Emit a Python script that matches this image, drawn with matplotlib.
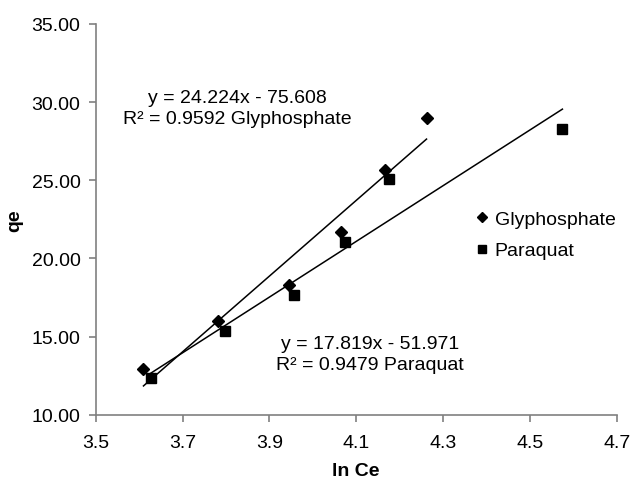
import matplotlib
matplotlib.use("Agg")
import matplotlib.pyplot as plt
import numpy as np

plt.rcParams['font.family'] = ['Liberation Sans', 'DejaVu Sans']

# values
gly_x = [3.610, 3.782, 3.945, 4.065, 4.166, 4.262]
gly_y = [12.92, 16.01, 18.31, 21.70, 25.66, 28.97]
para_x = [3.627, 3.798, 3.957, 4.074, 4.175, 4.575]
para_y = [12.33, 15.37, 17.67, 21.06, 25.07, 28.31]

# trendline equations shown on the chart
gly_fit = (24.224, -75.608, 0.9592)
para_fit = (17.819, -51.971, 0.9479)

x_ticks = [3.5, 3.7, 3.9, 4.1, 4.3, 4.5, 4.7]
y_ticks = [10, 15, 20, 25, 30, 35]

W, H = 631, 485
fig = plt.figure(figsize=(W / 100, H / 100), dpi=100)
ax = fig.add_axes([0.1517, 0.1429, 0.8256, 0.8056])

ax.plot(gly_x, gly_y, 'D', color='black', ms=6.5, label='Glyphosphate', zorder=3)
ax.plot(para_x, para_y, 's', color='black', ms=6.5, label='Paraquat', zorder=3)

# linear trendlines spanning each series
for xs, (m, b, r2) in [(gly_x, gly_fit), (para_x, para_fit)]:
    xx = np.array([min(xs), max(xs)])
    ax.plot(xx, m * xx + b, color='black', lw=1.1, zorder=2)

fs = 14
fig.text(237 / W, 1 - 109 / H,
         "y = %.3fx - %.3f\nR² = %.4f Glyphosphate" % (gly_fit[0], -gly_fit[1], gly_fit[2]),
         fontsize=fs, ha='center', va='center', linespacing=1.3)
fig.text(370 / W, 1 - 355 / H,
         "y = %.3fx - %.3f\nR² = %.4f Paraquat" % (para_fit[0], -para_fit[1], para_fit[2]),
         fontsize=fs, ha='center', va='center', linespacing=1.3)

ax.set_xlim(3.5, 4.7)
ax.set_ylim(10, 35)
ax.set_xticks(x_ticks)
ax.set_xticklabels([f"{v:.1f}" for v in x_ticks])
ax.set_yticks(y_ticks)
ax.set_yticklabels([f"{v:.2f}" for v in y_ticks])
ax.tick_params(labelsize=fs, direction='out', length=5, color='#808080', width=1.2)
ax.tick_params(axis='y', pad=6)
ax.tick_params(axis='x', pad=9)
for s in ['top', 'right']:
    ax.spines[s].set_visible(False)
for s in ['left', 'bottom']:
    ax.spines[s].set_color('#808080')
    ax.spines[s].set_linewidth(1.2)

ax.set_xlabel("ln Ce", fontsize=fs, fontweight='bold', labelpad=8)
ax.set_ylabel("qe", fontsize=fs, fontweight='bold', labelpad=6)

leg = ax.legend(loc='center left', bbox_to_anchor=(0.695, 0.46), frameon=False,
                fontsize=fs, handlelength=0.7, handletextpad=0.3, labelspacing=0.7,
                markerscale=0.8)

fig.savefig("out.png", dpi=100)
